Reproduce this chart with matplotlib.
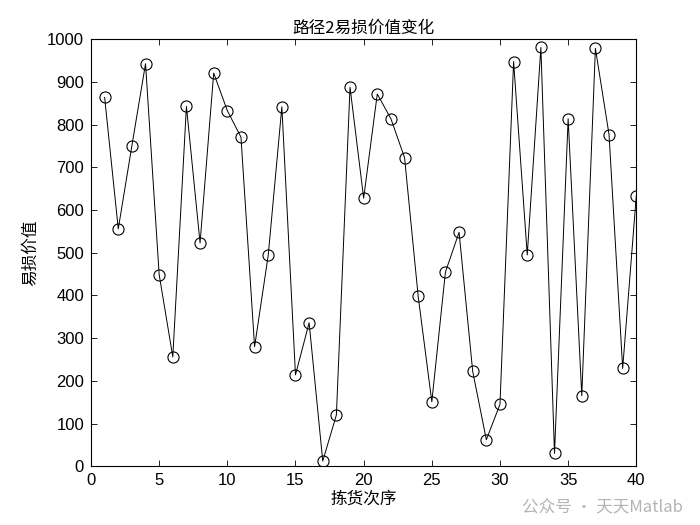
import matplotlib
matplotlib.use("Agg")
import matplotlib.pyplot as plt

# ── data ──────────────────────────────────────────────────────────────────────
order = list(range(1, 41))
loss_value = [864, 556, 751, 943, 449, 256, 843, 523, 921, 833,
              771, 280, 494, 842, 214, 336, 12, 120, 888, 628,
              872, 814, 723, 398, 151, 455, 548, 222, 62, 145,
              948, 495, 981, 30, 814, 165, 979, 777, 229, 634]

x_ticks = [0, 5, 10, 15, 20, 25, 30, 35, 40]
y_ticks = list(range(0, 1001, 100))

CJK = ["Noto Sans CJK SC", "DejaVu Sans"]
NUM = ["Liberation Sans", "Noto Sans CJK SC"]

fig = plt.figure(figsize=(7, 5.25), dpi=100, facecolor="white")
ax = fig.add_axes([0.13, 0.112, 0.779, 0.813])

ax.plot(order, loss_value, color="black", linewidth=0.7,
        marker="o", markersize=8, markerfacecolor="none",
        markeredgecolor="black", markeredgewidth=0.8)

ax.set_xlim(0, 40)
ax.set_ylim(0, 1000)
ax.set_xticks(x_ticks)
ax.set_yticks(y_ticks)
ax.tick_params(direction="in", top=True, right=True, length=4, width=0.6,
               labelsize=12, pad=5)
for lab in ax.get_xticklabels() + ax.get_yticklabels():
    lab.set_family(NUM)
for spine in ax.spines.values():
    spine.set_linewidth(0.8)

ax.set_title("路径2易损价值变化", family=CJK, fontsize=12, pad=5)
ax.set_xlabel("拣货次序", family=CJK, fontsize=12, labelpad=2)
ax.set_ylabel("易损价值", family=CJK, fontsize=12, labelpad=6)

# watermark (kept just below the tick labels)
fig.text(0.975, 0.035, "公众号 · 天天Matlab", family=CJK, fontsize=12,
         color="#b4b4b4", ha="right", va="center")

fig.savefig("out.png", dpi=100, facecolor="white")
